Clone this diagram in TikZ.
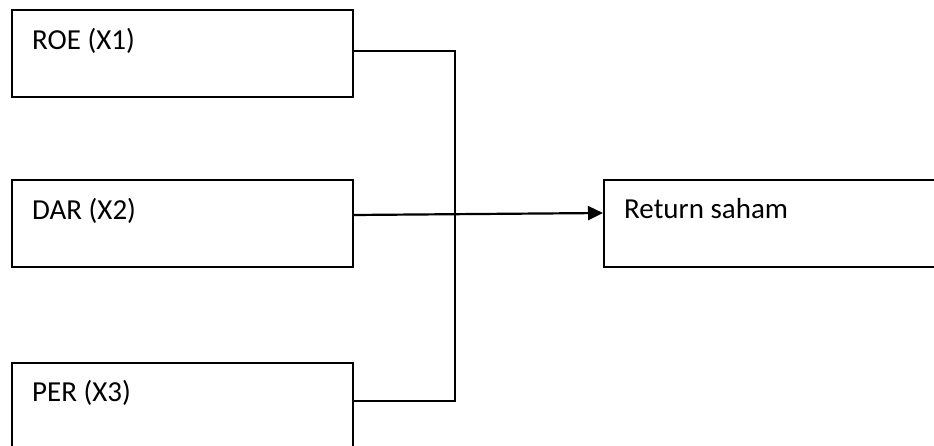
\documentclass[tikz,border=0pt]{standalone}
\usepackage{fontspec}
\setmainfont{Carlito}
\usetikzlibrary{calc,arrows.meta}
\begin{document}
\begin{tikzpicture}[x=1pt,y=-1pt,
  box/.style={draw=black,line width=1.6pt,rectangle,minimum width=341pt,minimum height=87pt,anchor=north west,inner sep=0pt},
  lbl/.style={anchor=base west,inner sep=0pt,font=\fontsize{29}{33}\selectfont},
  conn/.style={draw=black,line width=1.7pt},
  arr/.style={draw=black,line width=2.2pt,-{Triangle[length=15pt,width=14pt]}}]
\useasboundingbox (0,0) rectangle (934,446);
\clip (0,0) rectangle (934,446);
\fill[white] (0,0) rectangle (934,446);
\node[box] (roe) at (11,9) {};
\node[box] (dar) at (11,179) {};
\node[box] (per) at (11,362) {};
\node[box,minimum width=345pt] (ret) at (603,179) {};
\node[lbl] (troe) at ($(roe.north west)+(21,41)$) {ROE (X1)};
\node[lbl] (tdar) at ($(dar.north west)+(21,41)$) {DAR (X2)};
\node[lbl] (tper) at ($(per.north west)+(21,39)$) {PER (X3)};
\node[lbl] (tret) at ($(ret.north west)+(21,40)$) {Return saham};
\coordinate (roeout) at ($(roe.north east)+(0,42)$);
\coordinate (perout) at ($(per.north east)+(0,39)$);
\coordinate (darout) at ($(dar.north east)+(0,36)$);
\coordinate (retin) at ($(ret.north west)+(0,34)$);
\coordinate (j1) at (455,51);
\coordinate (j3) at (455,401);
\draw[conn] (roeout) -- (j1) -- (j3) -- (perout);
\draw[arr] (darout) -- (retin);
\end{tikzpicture}
\end{document}
